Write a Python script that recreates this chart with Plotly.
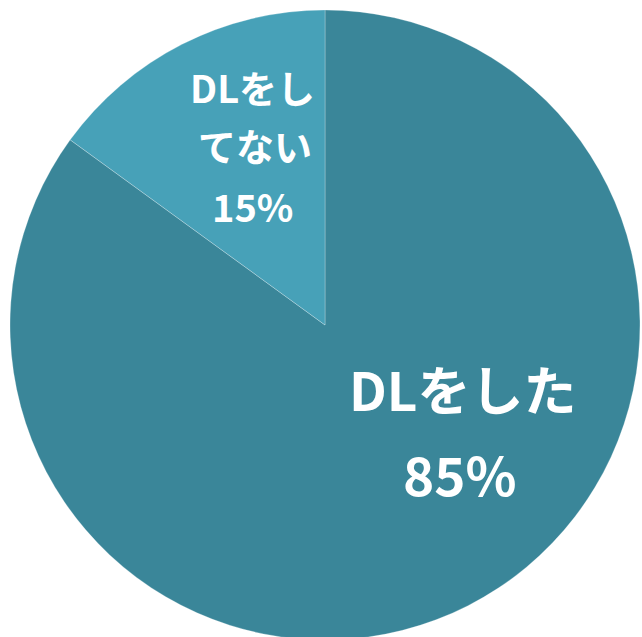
import plotly.graph_objects as go

labels = ["DLをした", "DLをしてない"]
values = [85, 15]
colors = ["#3A8699", "#47A1B8"]
big_lines = ["DLをした", "85%"]
small_lines = ["DLをし", "てない", "15%"]

W, H = 642, 642
fig = go.Figure(go.Pie(
    labels=labels,
    values=values,
    sort=False,
    direction="clockwise",
    rotation=0,
    marker=dict(colors=colors, line=dict(color="rgba(255,255,255,0.25)", width=1)),
    textinfo="none",
    hoverinfo="label+percent",
    showlegend=False,
    domain=dict(x=[10/W, 640/W], y=[(H - 640)/H, (H - 10)/H]),
))

font = "Noto Sans CJK JP, Noto Sans, sans-serif"
for txt, (px, py) in zip(big_lines, [(462, 388), (460, 473)]):
    fig.add_annotation(x=px/W, y=1 - py/H, xref="paper", yref="paper",
                       xanchor="center", yanchor="middle",
                       text="<b>" + txt + "</b>", showarrow=False,
                       font=dict(family=font, size=53, color="white"))
for txt, (px, py) in zip(small_lines, [(252, 86), (255, 145), (252, 205)]):
    fig.add_annotation(x=px/W, y=1 - py/H, xref="paper", yref="paper",
                       xanchor="center", yanchor="middle",
                       text="<b>" + txt + "</b>", showarrow=False,
                       font=dict(family=font, size=38, color="white"))

fig.update_layout(
    width=W, height=H,
    margin=dict(l=0, r=0, t=0, b=0),
    paper_bgcolor="white",
    plot_bgcolor="white",
)
fig.write_html(
    "out.html",
    config={"displayModeBar": False},
    post_script="document.body.style.margin='0';document.body.style.overflow='hidden';document.documentElement.style.overflow='hidden';",
)
